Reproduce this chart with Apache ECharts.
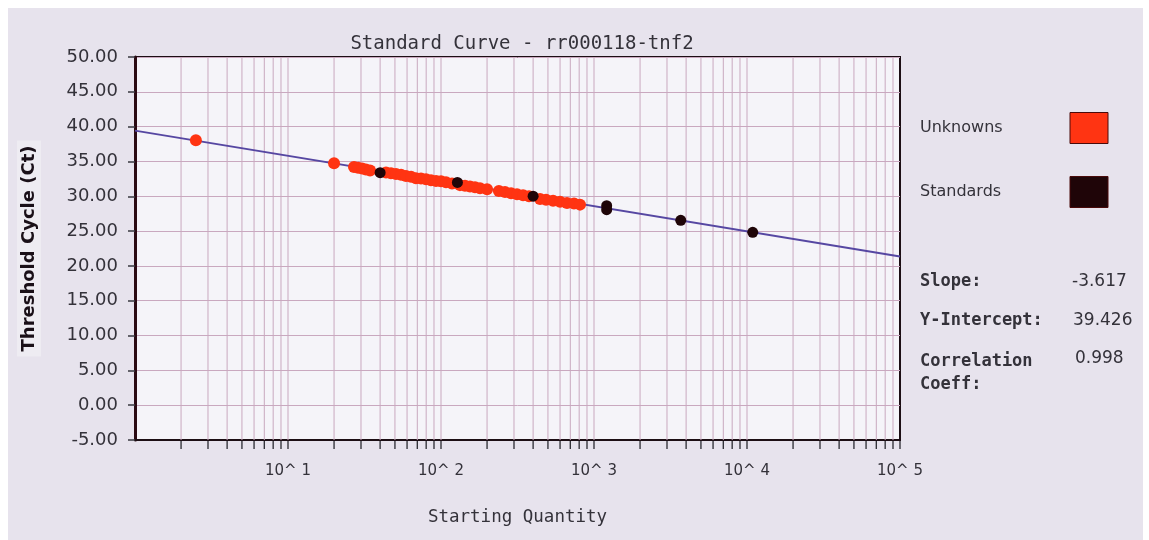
<!DOCTYPE html>
<html>
<head>
<meta charset="utf-8">
<title>Standard Curve - rr000118-tnf2</title>
<script src="https://cdn.jsdelivr.net/npm/echarts@6/dist/echarts.min.js"></script>
<style>
  html, body { margin: 0; padding: 0; background: #ffffff; }
  #chart { width: 1149px; height: 540px; }
</style>
</head>
<body>
<div id="chart"></div>
<script>
// Regression statistics of the standard curve
const SLOPE = -3.617;
const INTERCEPT = 39.426;
const CORR = 0.998;

// Standards: starting quantity and threshold cycle
const STD_QTY = [40, 128, 400, 1210, 1210, 3690, 10900];
const STD_CT  = [33.38, 31.99, 30.01, 28.65, 28.08, 26.55, 24.83];

// Unknowns: starting quantity and threshold cycle
const UNK_QTY = [2.5, 20, 27, 28.7, 30.5, 32.3, 34.4, 43.7, 47.1, 50.8, 54.8, 59, 63.7,
  68.6, 74, 79.8, 86, 92.8, 100, 107.8, 118, 133, 143.5, 154.7, 166.8, 179.8, 200,
  239, 262, 287, 314, 344, 376, 444, 486, 540, 600, 666, 740, 810];
const UNK_CT = [38.05, 34.75, 34.2, 34.1, 34.0, 33.85, 33.7, 33.4, 33.3, 33.2, 33.1, 32.9, 32.8,
  32.6, 32.55, 32.45, 32.3, 32.2, 32.15, 32.0, 31.85, 31.6, 31.5, 31.4, 31.3, 31.15, 31.0,
  30.75, 30.6, 30.45, 30.3, 30.15, 30.0, 29.6, 29.5, 29.35, 29.2, 29.05, 28.95, 28.8];

// Axis ranges and log grid positions (2..9 of every decade)
const X_MIN = 1, X_MAX = 100000;
const Y_MIN = -5, Y_MAX = 50, Y_STEP = 5;
const X_GRID = [2, 3, 4, 5, 6, 7, 8, 9, 10,
  20, 30, 40, 50, 60, 70, 80, 90, 100,
  200, 300, 400, 500, 600, 700, 800, 900, 1000,
  2000, 3000, 4000, 5000, 6000, 7000, 8000, 9000, 10000,
  20000, 30000, 40000, 50000, 60000, 70000, 80000, 90000, 100000];

const GRID_COLOR = '#c9a8bf';
const FRAME_COLOR = '#1c0e14';
const TEXT_COLOR = '#34323a';

const fitLine = [X_MIN, X_MAX].map(q => [q, INTERCEPT + SLOPE * Math.log10(q)]);

const chart = echarts.init(document.getElementById('chart'), null, { renderer: 'canvas' });

chart.setOption({
  animation: false,
  backgroundColor: '#ffffff',
  title: {
    text: 'Standard Curve - rr000118-tnf2',
    left: 517,
    top: 30,
    textAlign: 'center',
    textStyle: { fontFamily: 'DejaVu Sans Mono', fontSize: 19, fontWeight: 'normal', color: TEXT_COLOR }
  },
  legend: {
    data: ['Unknowns', 'Standards'],
    orient: 'vertical',
    align: 'right',
    left: 920,
    top: 112,
    padding: 0,
    itemWidth: 38,
    itemHeight: 31,
    itemGap: 32,
    icon: 'rect',
    selectedMode: false,
    formatter: name => '{a|' + name + '}',
    textStyle: {
      rich: { a: { width: 145, align: 'left', fontFamily: 'DejaVu Sans', fontSize: 16, color: TEXT_COLOR } }
    },
    itemStyle: { borderColor: '#4a0a0a', borderWidth: 1 }
  },
  graphic: [
    { type: 'rect', z: -100, silent: true, shape: { x: 8, y: 8, width: 1135, height: 532 }, style: { fill: '#e7e3ed' } },
    { type: 'text', left: 920, top: 273, style: { text: 'Slope:', font: 'bold 17px "DejaVu Sans Mono"', fill: TEXT_COLOR } },
    { type: 'text', left: 1072, top: 273, style: { text: SLOPE.toFixed(3), font: '17px "DejaVu Sans"', fill: TEXT_COLOR } },
    { type: 'text', left: 920, top: 312, style: { text: 'Y-Intercept:', font: 'bold 17px "DejaVu Sans Mono"', fill: TEXT_COLOR } },
    { type: 'text', left: 1073, top: 312, style: { text: INTERCEPT.toFixed(3), font: '17px "DejaVu Sans"', fill: TEXT_COLOR } },
    { type: 'text', left: 920, top: 350, style: { text: 'Correlation\nCoeff:', lineHeight: 23, font: 'bold 17px "DejaVu Sans Mono"', fill: TEXT_COLOR } },
    { type: 'text', left: 1075, top: 350, style: { text: CORR.toFixed(3), font: '17px "DejaVu Sans"', fill: TEXT_COLOR } }
  ],
  grid: {
    left: 135, top: 57, right: 249, bottom: 100,
    show: true,
    backgroundColor: '#f5f4f9',
    borderColor: FRAME_COLOR,
    borderWidth: 2
  },
  xAxis: {
    type: 'log',
    logBase: 10,
    min: X_MIN,
    max: X_MAX,
    name: 'Starting Quantity',
    nameLocation: 'middle',
    nameGap: 68,
    nameTextStyle: { fontFamily: 'DejaVu Sans Mono', fontSize: 17.5, color: TEXT_COLOR },
    axisLine: { show: true, onZero: false, lineStyle: { color: FRAME_COLOR, width: 2 } },
    axisTick: { show: false },
    splitLine: { show: false },
    axisLabel: {
      margin: 24,
      fontFamily: 'DejaVu Sans',
      fontSize: 15,
      color: TEXT_COLOR,
      formatter: v => (v <= X_MIN ? '' : '10^ ' + Math.round(Math.log10(v)))
    }
  },
  yAxis: {
    type: 'value',
    min: Y_MIN,
    max: Y_MAX,
    interval: Y_STEP,
    name: 'Threshold Cycle (Ct)',
    nameLocation: 'middle',
    nameGap: 94,
    nameTextStyle: {
      fontFamily: 'DejaVu Sans', fontSize: 18, fontWeight: 'bold', color: '#1a1018',
      backgroundColor: '#eeecf2', padding: [3, 5]
    },
    axisLine: { show: true, lineStyle: { color: '#2a0a12', width: 3 } },
    axisTick: { show: true, length: 7, lineStyle: { color: '#3a3a40', width: 1.5 } },
    splitLine: { show: true, lineStyle: { color: GRID_COLOR, width: 1 } },
    axisLabel: {
      margin: 17,
      fontFamily: 'DejaVu Sans',
      fontSize: 18,
      color: TEXT_COLOR,
      formatter: v => v.toFixed(2)
    }
  },
  series: [
    {
      // vertical log grid lines and the tick marks under the axis
      type: 'custom',
      name: 'logGrid',
      silent: true,
      z: 1,
      clip: false,
      data: X_GRID.map(q => [q, Y_MIN]),
      encode: { x: 0, y: 1 },
      renderItem: (params, api) => {
        const q = api.value(0);
        const top = api.coord([q, Y_MAX]);
        const bot = api.coord([q, Y_MIN]);
        const children = [{
          type: 'line',
          shape: { x1: bot[0], y1: bot[1] + 1, x2: bot[0], y2: bot[1] + 9 },
          style: { stroke: '#2a2a30', lineWidth: 1.3 }
        }];
        if (q < X_MAX) {
          children.unshift({
            type: 'line',
            shape: { x1: top[0], y1: top[1], x2: bot[0], y2: bot[1] },
            style: { stroke: GRID_COLOR, lineWidth: 1 }
          });
        }
        return { type: 'group', children };
      }
    },
    {
      type: 'line',
      name: 'fit',
      data: fitLine,
      showSymbol: false,
      silent: true,
      z: 3,
      lineStyle: { color: '#5647a2', width: 2 }
    },
    {
      type: 'scatter',
      name: 'Unknowns',
      z: 4,
      symbolSize: 12,
      itemStyle: { color: '#ff3412', opacity: 1 },
      data: UNK_QTY.map((q, i) => [q, UNK_CT[i]])
    },
    {
      type: 'scatter',
      name: 'Standards',
      z: 5,
      symbolSize: 11,
      itemStyle: { color: '#1f0508', opacity: 1 },
      data: STD_QTY.map((q, i) => [q, STD_CT[i]])
    }
  ]
});
</script>
</body>
</html>
